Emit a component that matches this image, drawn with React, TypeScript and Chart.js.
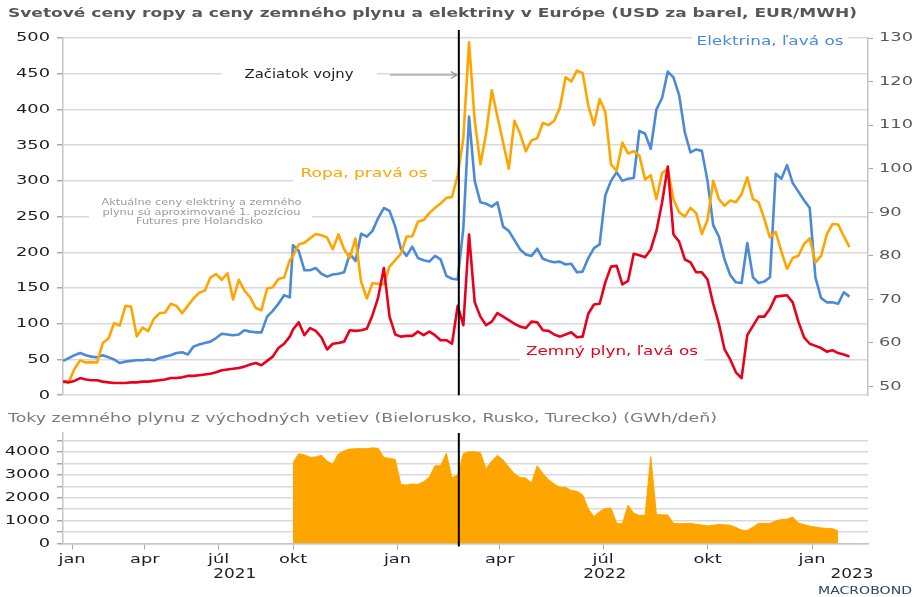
import React, { useEffect, useRef } from 'react';
import { Chart, registerables } from 'chart.js';

Chart.register(...registerables);

// ---------- data ----------
// Part A: weekly observations from 2020-12-21 (axis section before Oct 2021 is compressed in the original)
const PART_A_START = '2020-12-21';
const PART_A_STEP_DAYS = 7;
// Part B: observations every 5 days from 2021-10-01
const PART_B_START = '2021-10-01';
const PART_B_STEP_DAYS = 5;

// Elektrina (EUR/MWh, left axis)
const elecA = [48, 52, 56, 59, 56, 54, 53, 56, 53, 50, 45, 47, 48, 49, 49, 50, 49, 52, 54, 56, 59, 60, 57, 68, 71, 73, 75, 80, 86, 85, 84, 85, 91, 89, 88, 88, 110, 118, 128, 140, 137];
const elecB = [
  210, 202, 175, 175, 178, 170, 166, 169, 170, 172,
  198, 188, 226, 222, 230, 248, 262, 258, 236, 205,
  195, 208, 192, 189, 187, 195, 190, 167, 163, 162,
  234, 390, 300, 270, 268, 264, 270, 236, 230, 217,
  204, 197, 195, 205, 191, 188, 186, 187, 183, 184,
  172, 173, 192, 206, 211, 280, 300, 312, 300, 303,
  304, 370, 366, 345, 400, 416, 453, 445, 420, 368,
  340, 344, 342, 300, 238, 222, 190, 168, 158, 157,
  213, 165, 157, 159, 165, 310, 303, 322, 297, 285,
  273, 262, 165, 136, 130, 130, 128, 144, 138,
];

// Zemný plyn (EUR/MWh, left axis)
const gasA = [19, 18, 20, 24, 22, 21, 21, 19, 18, 17, 17, 17, 18, 18, 19, 19, 20, 21, 22, 24, 24, 25, 27, 27, 28, 29, 30, 32, 35, 36, 37, 38, 40, 43, 45, 42, 48, 54, 66, 72, 82];
const gasB = [
  92, 102, 84, 94, 90, 81, 64, 72, 73, 75,
  91, 90, 91, 93, 112, 137, 178, 110, 85, 82,
  83, 83, 89, 84, 89, 84, 77, 77, 72, 125,
  98, 225, 130, 110, 98, 103, 115, 110, 105, 100,
  96, 94, 103, 102, 91, 90, 85, 82, 85, 88,
  81, 82, 114, 127, 128, 158, 180, 181, 155, 160,
  198, 196, 193, 204, 230, 270, 320, 225, 215, 190,
  186, 172, 172, 162, 128, 100, 64, 50, 32, 24,
  84, 97, 110, 110, 121, 138, 139, 140, 130, 103,
  81, 72, 69, 66, 61, 63, 59, 57, 54,
];

// Ropa (USD/barel, right axis)
const oilA = [51.3, 51, 54, 56, 55.5, 55.6, 55.5, 60, 61, 64.5, 64, 68.5, 68.3, 61.5, 63.5, 62.7, 65.5, 66.8, 67, 69, 68.5, 66.8, 68.5, 70.2, 71.5, 72, 75, 75.8, 74.5, 76, 70, 74.5, 72, 70.5, 68, 67.5, 72.5, 72.8, 74.7, 75, 79];
const oilB = [
  80, 82.6, 83, 84, 85, 84.7, 84.2, 81.5, 84.9, 81.5,
  79.5, 84, 74, 70.2, 73.7, 73.6, 73.5, 77.5, 79, 80.5,
  84.4, 84.5, 87.8, 88.2, 89.8, 91, 92, 93.3, 93.5, 98.5,
  107, 129, 111, 101, 108, 118, 112, 106, 100, 111,
  108, 104, 106.5, 107, 110.5, 110, 111, 114, 121, 120,
  122.5, 122, 114.5, 110, 116, 113, 101, 99.5, 106, 103.5,
  104, 103, 97.5, 98.5, 93, 99, 100, 93, 90, 89,
  91, 89.8, 85, 88.3, 97.2, 93, 91.5, 92.7, 92.3, 94.2,
  98, 93, 92.3, 88.5, 84.2, 85.5, 81, 77, 79.5, 80,
  82.7, 84, 78.5, 80, 84.9, 87.3, 87.2, 84.5, 82,
];

// Toky zemného plynu (GWh/deň), from 2021-10-01 every 5 days
const flowB = [
  3530, 3920, 3880, 3770, 3780, 3860, 3600, 3470, 3925, 4050,
  4130, 4140, 4150, 4140, 4180, 4160, 3760, 3720, 3675, 2580,
  2560, 2600, 2580, 2700, 2900, 3400, 3400, 3950, 2870, 3000,
  3930, 4010, 4010, 3970, 3270, 3600, 3860, 3650, 3340, 3050,
  2880, 2860, 2645, 3400, 3060, 2790, 2600, 2455, 2455, 2320,
  2280, 2130, 1515, 1175, 1400, 1540, 1540, 880, 860, 1680,
  1320, 1230, 1230, 3800, 1270, 1250, 1250, 880, 860, 870,
  880, 840, 810, 770, 800, 830, 820, 800, 700, 590,
  560, 720, 880, 880, 880, 980, 1050, 1060, 1160, 900,
  820, 760, 720, 680, 660, 650, 550,
];
const flowTicks = [0, 500, 1000, 1500, 2000, 2500, 3000, 3500, 4000, 4500];

const monthTickDates = ['2021-01-01', '2021-04-01', '2021-07-01', '2021-10-01', '2022-01-01', '2022-04-01', '2022-07-01', '2022-10-01', '2023-01-01'];
const monthTickLabels = ['jan', 'apr', 'júl', 'okt', 'jan', 'apr', 'júl', 'okt', 'jan'];
const yearLabels = ['2021', '2022', '2023'];
const yearStarts = ['2021-01-01', '2022-01-01', '2023-01-01'];
const WAR_DATE = '2022-02-24';
const AXIS_START = '2020-12-21';
const AXIS_END = '2023-02-19';

// ---------- helpers ----------
const DAY = 86400000;
const COMPRESS = 0.7128;
function toTime(s: string) {
  const [y, m, d] = s.split('-').map(Number);
  return Date.UTC(y, m - 1, d);
}
const BREAK = toTime('2021-10-01');
function pos(t: number) {
  const d = (t - BREAK) / DAY;
  return d < 0 ? d * COMPRESS : d;
}
function dates(start: string, step: number, n: number) {
  const t0 = toTime(start);
  return Array.from({ length: n }, (_, i) => t0 + i * step * DAY);
}
const datesA = dates(PART_A_START, PART_A_STEP_DAYS, elecA.length);
const datesB = dates(PART_B_START, PART_B_STEP_DAYS, elecB.length);
function series(a: number[], b: number[]) {
  return [
    ...a.map((y, i) => ({ x: pos(datesA[i]), y })),
    ...b.map((y, i) => ({ x: pos(datesB[i]), y })),
  ];
}
const flowSeries = flowB.map((y, i) => ({ x: pos(datesB[i]), y }));
const X_MIN = pos(toTime(AXIS_START)) - 0.1;
const X_MAX = pos(toTime(AXIS_END)) + 0.3;
const monthTickVals = monthTickDates.map((d) => pos(toTime(d)));

const BLUE = '#4a8ad6';
const RED = '#e8001c';
const ORANGE = '#ffa500';
const GRID = '#d9d9d9';
const AXIS = '#c4c4c4';
const FONT = 'DejaVu Sans';
const TICK_STRETCH = 1.37;

function patchContext(ctx: CanvasRenderingContext2D) {
  const c = ctx as any;
  if (c.__patched) return;
  c.__patched = true;
  c.__sx = TICK_STRETCH;
  const orig = ctx.fillText.bind(ctx);
  (ctx as any).fillText = (text: string, x: number, y: number) => {
    const s = c.__sx;
    ctx.save();
    ctx.translate(x, y);
    ctx.scale(s, 1);
    orig(text, 0, 0);
    ctx.restore();
  };
}

function fitText(ctx: CanvasRenderingContext2D, text: string, cx: number, cy: number, width: number, font: string, color: string) {
  ctx.save();
  ctx.font = font;
  ctx.fillStyle = color;
  ctx.textAlign = 'center';
  ctx.textBaseline = 'middle';
  const w = ctx.measureText(text).width;
  const c = ctx as any;
  const prev = c.__sx;
  c.__sx = width / w;
  ctx.fillText(text, cx, cy);
  c.__sx = prev;
  ctx.restore();
}

function box(ctx: CanvasRenderingContext2D, x0: number, y0: number, x1: number, y1: number, fill = '#ffffff') {
  ctx.save();
  ctx.fillStyle = fill;
  ctx.fillRect(x0, y0, x1 - x0, y1 - y0);
  ctx.restore();
}

function warLine(chart: any, yTop: number, yBottom: number) {
  const ctx: CanvasRenderingContext2D = chart.ctx;
  const x = chart.scales.x.getPixelForValue(pos(toTime(WAR_DATE)));
  ctx.save();
  ctx.strokeStyle = '#000';
  ctx.lineWidth = 2;
  ctx.beginPath();
  ctx.moveTo(x, yTop);
  ctx.lineTo(x, yBottom);
  ctx.stroke();
  ctx.restore();
  return x;
}

const topDecor = {
  id: 'topDecor',
  beforeDatasetsDraw(chart: any) {
    const ctx: CanvasRenderingContext2D = chart.ctx;
    box(ctx, 222, 66, 377, 85);
    box(ctx, 692, 32, 848, 51);
    box(ctx, 293, 164, 432, 188);
    box(ctx, 89, 193, 312, 231);
  },
  afterDatasetsDraw(chart: any) {
    const ctx: CanvasRenderingContext2D = chart.ctx;
    const a = chart.chartArea;
    box(ctx, 520, 341, 705, 363, 'rgba(255,255,255,0.8)');
    const wx = warLine(chart, 30, a.bottom);
    // arrow
    ctx.save();
    ctx.strokeStyle = '#8c8c8c';
    ctx.lineWidth = 1.2;
    ctx.beginPath();
    ctx.moveTo(390, 75);
    ctx.lineTo(wx - 2, 75);
    ctx.moveTo(wx - 8, 71.5);
    ctx.lineTo(wx - 2, 75);
    ctx.lineTo(wx - 8, 78.5);
    ctx.stroke();
    ctx.restore();
    fitText(ctx, 'Začiatok vojny', 299, 75, 109, `13px "${FONT}"`, '#1e1e1e');
    fitText(ctx, 'Elektrina, ľavá os', 770, 42, 147, `13px "${FONT}"`, BLUE);
    fitText(ctx, 'Ropa, pravá os', 364, 174, 127, `13px "${FONT}"`, ORANGE);
    fitText(ctx, 'Zemný plyn, ľavá os', 612, 352, 172, `13px "${FONT}"`, RED);
    const nf = `9.5px "${FONT}"`;
    fitText(ctx, 'Aktuálne ceny elektriny a zemného', 201.5, 203, 200, nf, '#9a9a9a');
    fitText(ctx, 'plynu sú aproximované 1. pozíciou', 201.5, 212.5, 198, nf, '#9a9a9a');
    fitText(ctx, 'Futures pre Holandsko', 199.5, 222, 127, nf, '#9a9a9a');
  },
  afterDraw(chart: any) {
    const ctx: CanvasRenderingContext2D = chart.ctx;
    fitText(ctx, 'Svetové ceny ropy a ceny zemného plynu a elektriny v Európe (USD za barel, EUR/MWH)', 432.5, 14, 849, `bold 12px "${FONT}"`, '#575757');
  },
};

const BOTTOM_TOP = 405;

const bottomDecor = {
  id: 'bottomDecor',
  afterDatasetsDraw(chart: any) {
    const a = chart.chartArea;
    warLine(chart, a.top, a.bottom + 3);
  },
  afterDraw(chart: any) {
    const ctx: CanvasRenderingContext2D = chart.ctx;
    const x = chart.scales.x;
    fitText(ctx, 'Toky zemného plynu z východných vetiev (Bielorusko, Rusko, Turecko) (GWh/deň)', 362.5, 418.5 - BOTTOM_TOP, 709, `13px "${FONT}"`, '#7a7a7a');
    yearLabels.forEach((lab, i) => {
      const p0 = x.getPixelForValue(pos(toTime(yearStarts[i])));
      const p1 = i + 1 < yearStarts.length ? x.getPixelForValue(pos(toTime(yearStarts[i + 1]))) : chart.chartArea.right + 24;
      fitText(ctx, lab, (p0 + p1) / 2, 574 - BOTTOM_TOP, 43, `13.5px "${FONT}"`, '#1e1e1e');
    });
    fitText(ctx, 'MACROBOND', 865, 591.5 - BOTTOM_TOP, 94, `10.5px "${FONT}"`, '#2c4468');
  },
};

const tickFont = { family: FONT, size: 13 };

export default function App() {
  const topRef = useRef<HTMLCanvasElement>(null);
  const botRef = useRef<HTMLCanvasElement>(null);

  useEffect(() => {
    const tctx = topRef.current!.getContext('2d')!;
    const bctx = botRef.current!.getContext('2d')!;
    patchContext(tctx);
    patchContext(bctx);

    const top = new Chart(tctx, {
      type: 'line',
      data: {
        datasets: [
          { label: 'Zemný plyn, ľavá os', data: series(gasA, gasB), borderColor: RED, yAxisID: 'y' },
          { label: 'Ropa, pravá os', data: series(oilA, oilB), borderColor: ORANGE, yAxisID: 'y1' },
          { label: 'Elektrina, ľavá os', data: series(elecA, elecB), borderColor: BLUE, yAxisID: 'y' },
        ],
      },
      options: {
        animation: false,
        responsive: false,
        events: [],
        layout: { padding: { top: 38, bottom: 8, left: 0, right: 0 } },
        elements: { point: { radius: 0 }, line: { borderWidth: 2.6, tension: 0, borderJoinStyle: 'round' } },
        plugins: { legend: { display: false }, tooltip: { enabled: false } },
        scales: {
          x: { type: 'linear', display: false, min: X_MIN, max: X_MAX },
          y: {
            position: 'left',
            min: 0,
            max: 500,
            ticks: { stepSize: 50, padding: 7, color: '#1e1e1e', font: tickFont },
            grid: { color: GRID, lineWidth: 1.5, tickLength: 6, tickColor: '#a8a8a8' },
            border: { color: AXIS, width: 1.5 },
            afterFit: (s: any) => { s.width = 63; },
          },
          y1: {
            position: 'right',
            min: 48,
            max: 130,
            ticks: { stepSize: 10, includeBounds: false, padding: 6, color: '#5a5a5a', font: tickFont },
            grid: { drawOnChartArea: false, tickLength: 5, tickColor: '#a8a8a8' },
            border: { color: AXIS, width: 1.5 },
            afterFit: (s: any) => { s.width = 47; },
          },
        },
      } as any,
      plugins: [topDecor],
    });

    const bottom = new Chart(bctx, {
      type: 'line',
      data: {
        datasets: [
          {
            label: 'Toky zemného plynu',
            data: flowSeries,
            borderColor: ORANGE,
            backgroundColor: ORANGE,
            borderWidth: 1,
            fill: 'origin',
            pointRadius: 0,
            tension: 0,
          },
        ],
      },
      options: {
        animation: false,
        responsive: false,
        events: [],
        layout: { padding: { top: 28, bottom: 0, left: 0, right: 47 } },
        plugins: { legend: { display: false }, tooltip: { enabled: false } },
        scales: {
          x: {
            type: 'linear',
            min: X_MIN,
            max: X_MAX,
            afterBuildTicks: (s: any) => { s.ticks = monthTickVals.map((v) => ({ value: v })); },
            ticks: {
              autoSkip: false,
              maxRotation: 0,
              padding: 2,
              color: '#1e1e1e',
              font: tickFont,
              callback: (_v: any, i: number) => monthTickLabels[i],
            },
            grid: { drawOnChartArea: false, tickLength: 6, tickColor: '#a8a8a8' },
            border: { color: AXIS, width: 1.5 },
            afterFit: (s: any) => { s.height = 53.5; },
          },
          y: {
            min: 0,
            max: 4830,
            afterBuildTicks: (s: any) => { s.ticks = flowTicks.map((v) => ({ value: v })); },
            ticks: {
              autoSkip: false,
              padding: 7,
              color: '#1e1e1e',
              font: tickFont,
              callback: (v: any) => (Number(v) % 1000 === 0 ? String(v) : ''),
            },
            grid: { color: GRID, lineWidth: 1.5, tickLength: 6, tickColor: '#a8a8a8' },
            border: { color: AXIS, width: 1.5 },
            afterFit: (s: any) => { s.width = 63; },
          },
        },
      } as any,
      plugins: [bottomDecor],
    });

    return () => {
      top.destroy();
      bottom.destroy();
    };
  }, []);

  return (
    <div style={{ position: 'absolute', left: 0, top: 0, width: 915, height: 597, background: '#fff', overflow: 'hidden' }}>
      <canvas ref={topRef} width={915} height={410} style={{ position: 'absolute', left: 0, top: 0, width: 915, height: 410 }} />
      <canvas ref={botRef} width={915} height={192} style={{ position: 'absolute', left: 0, top: BOTTOM_TOP, width: 915, height: 192 }} />
    </div>
  );
}
